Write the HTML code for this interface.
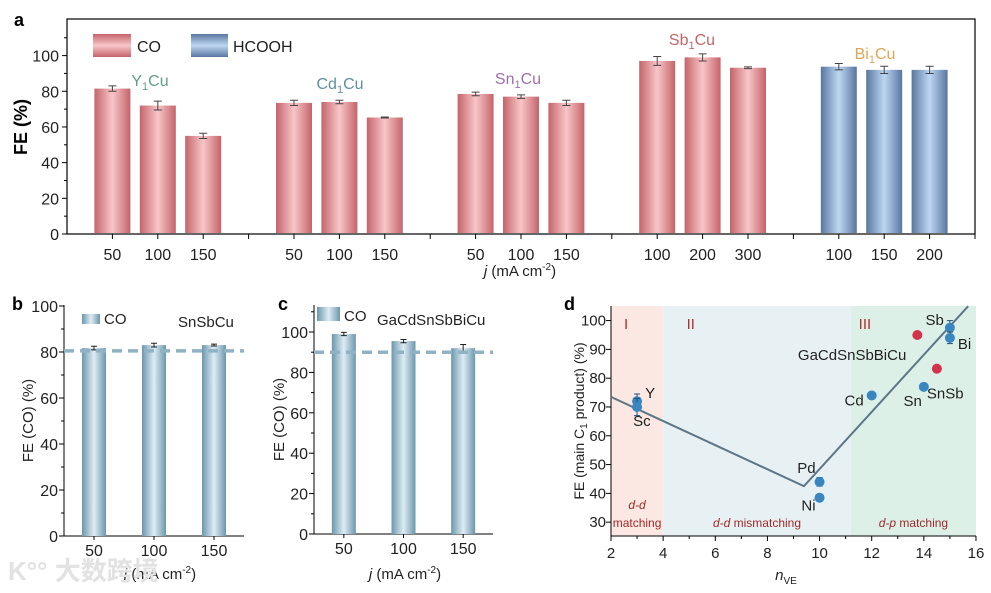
<!DOCTYPE html>
<html><head><meta charset="utf-8"><style>
html,body{margin:0;padding:0;background:#fff;}
svg{display:block;font-family:"Liberation Sans",Arial,sans-serif;}
</style></head><body>
<svg id="fig" width="991" height="593" viewBox="0 0 991 593" xmlns="http://www.w3.org/2000/svg">
<defs>
<linearGradient id="gRed" x1="0" x2="1" y1="0" y2="0"><stop offset="0" stop-color="#c4646b"/><stop offset="0.5" stop-color="#f8c6c8"/><stop offset="1" stop-color="#c4646b"/></linearGradient>
<linearGradient id="gBlue" x1="0" x2="1" y1="0" y2="0"><stop offset="0" stop-color="#5a76a0"/><stop offset="0.5" stop-color="#bdd7f2"/><stop offset="1" stop-color="#5a76a0"/></linearGradient>
<linearGradient id="gTeal" x1="0" x2="1" y1="0" y2="0"><stop offset="0" stop-color="#6b97ad"/><stop offset="0.5" stop-color="#deecf3"/><stop offset="1" stop-color="#6b97ad"/></linearGradient>
<linearGradient id="gRedV" x1="0" x2="0" y1="0" y2="1"><stop offset="0" stop-color="#c4646b"/><stop offset="0.5" stop-color="#f8c6c8"/><stop offset="1" stop-color="#c4646b"/></linearGradient>
<linearGradient id="gBlueV" x1="0" x2="0" y1="0" y2="1"><stop offset="0" stop-color="#5a76a0"/><stop offset="0.5" stop-color="#bdd7f2"/><stop offset="1" stop-color="#5a76a0"/></linearGradient>
</defs>
<g id="pa"></g>
<g id="pb"></g>
<g id="pc"></g>
<g id="pd"></g>
<text x="8" y="580" font-size="26" fill="#e2e2e2" font-family="'Liberation Sans','Noto Sans CJK SC',sans-serif" font-weight="bold">K°° 大数跨境</text>
</svg>
<script>
// ---------- Panel a data ----------
const aCats = ["50","100","150","50","100","150","50","100","150","100","200","300","100","150","200"];
const aSlots = [1,2,3,5,6,7,9,10,11,13,14,15,17,18,19];
const aVals = [81.5,72,55,73.5,74,65.3,78.5,77,73.5,97,99,93.2,93.8,92,92];
const aErr = [1.5,2.5,1.5,1.5,1,0.3,1,1,1.5,2.5,2,0.5,1.8,2,2];
const aSeries = ["CO","CO","CO","CO","CO","CO","CO","CO","CO","CO","CO","CO","HCOOH","HCOOH","HCOOH"];
const aGroups = ["Y","Cd","Sn","Sb","Bi"];
const aYTicks = [0,20,40,60,80,100];
// ---------- Panel b ----------
const bCats = ["50","100","150"];
const bVals = [81.7,83,83];
const bErr = [0.8,0.8,0.4];
const bRef = [80.5];
const bYTicks = [0,20,40,60,80,100];
// ---------- Panel c ----------
const cCats = ["50","100","150"];
const cVals = [99,95.5,92];
const cErr = [0.8,0.8,1.8];
const cRef = [90];
const cYTicks = [0,20,40,60,80,100];
// ---------- Panel d ----------
const dNames = ["Y","Sc","Pd","Ni","Cd","Sn","Sb","Bi","GaCdSnSbBiCu","SnSb"];
const dX = [3,3,10,10,12,14,15,15,13.75,14.5];
const dY = [72,70,44,38.5,74,77,97.5,94,95,83.3];
const dErr = [2.5,3,1.5,1,1,0.5,2.5,2,1,1];
const dKind = ["single","single","single","single","single","single","single","single","multi","multi"];
const dLineX = [2,9.4,15.7];
const dLineY = [73.5,42.5,105];
const dXTicks = [2,4,6,8,10,12,14,16];
const dYTicks = [30,40,50,60,70,80,90,100];
const dRegions = [2,4,11.2,16];

const NS="http://www.w3.org/2000/svg";
function mk(parent,tag,attrs,txt){const e=document.createElementNS(NS,tag);for(const k in attrs)e.setAttribute(k,attrs[k]);if(txt!==undefined)e.textContent=txt;parent.appendChild(e);return e;}
const F="#222";

// ===== Panel A =====
(function(){
const g=document.getElementById('pa');
const L=67,R=975,T=19,B=234;
const x=s=>L+s*(R-L)/20;
const y=v=>B-v*1.784;
let el;
el=mk(g,'rect',{x:L,y:T,width:R-L,height:B-T,fill:'none',stroke:'#000','stroke-width':1.2});


aYTicks.forEach(t=>{
  el=mk(g,'line',{x1:L,x2:L-5,y1:y(t),y2:y(t),stroke:'#000'});
  
  
  el=mk(g,'text',{x:L-8,y:y(t)+6,'text-anchor':'end','font-size':16,fill:F},t);
  
  
  el=mk(g,'line',{x1:L,x2:L-3,y1:y(t+10),y2:y(t+10),stroke:'#000'});
  
  
});
[4,8,12,16,20].forEach(s=>{
  el=mk(g,'line',{x1:x(s),x2:x(s),y1:B,y2:B+5,stroke:'#000'});
  
  
});
aVals.forEach((v,i)=>{
  const cx=x(aSlots[i]);
  el=mk(g,'rect',{x:cx-18,y:y(v),width:36,height:B-1-y(v),fill:aSeries[i]==="CO"?'url(#gRed)':'url(#gBlue)'});
  
  
  el=mk(g,'path',{d:`M${cx-4} ${y(v+aErr[i])}H${cx+4}M${cx} ${y(v+aErr[i])}V${y(v-aErr[i])}M${cx-4} ${y(v-aErr[i])}H${cx+4}`,stroke:'#444',fill:'none','stroke-width':1});
  
  
  el=mk(g,'line',{x1:cx,x2:cx,y1:B,y2:B+5,stroke:'#000'});
  
  
  el=mk(g,'text',{x:cx,y:B+26,'text-anchor':'middle','font-size':16,fill:F},aCats[i]);
  
  
});
const gl=[["Y",150,86,"#5fa084"],["Cd",340,89,"#5f8f9c"],["Sn",518,84,"#9b70a6"],["Sb",692,45,"#c46468"],["Bi",875,59,"#e0a555"]];
gl.forEach(q=>{
  el=mk(g,'text',{x:q[1],y:q[2],'text-anchor':'middle','font-size':16,fill:q[3]});
  el.innerHTML=q[0]+'<tspan font-size="11" dy="4">1</tspan><tspan dy="-4">Cu</tspan>';
  
  
});
el=mk(g,'rect',{x:93,y:34,width:38,height:23,fill:'url(#gRedV)'});


el=mk(g,'text',{x:137,y:52,'font-size':16,fill:F},'CO');


el=mk(g,'rect',{x:191,y:34,width:37,height:23,fill:'url(#gBlueV)'});


el=mk(g,'text',{x:233,y:52,'font-size':16,fill:F},'HCOOH');


el=mk(g,'text',{x:27,y:127,'text-anchor':'middle','font-size':18,'font-weight':'bold',fill:'#000',transform:'rotate(-90 27 127)'},'FE (%)');


el=mk(g,'text',{x:520,y:276,'text-anchor':'middle','font-size':15,fill:F});
el.innerHTML='<tspan font-style="italic">j</tspan> (mA cm<tspan font-size="10" dy="-6">-2</tspan><tspan dy="6">)</tspan>';


el=mk(g,'text',{x:14,y:26,'font-size':18,'font-weight':'bold',fill:'#000'},'a');


})();

// ===== Panels B & C =====
function barPanel(id,cfg,cats,vals,errs,ref,ticks){
const g=document.getElementById(id);
const {L,R,T,B,unit,lbl}=cfg;
const y=v=>B-v*unit;
const n=cats.length;
const x=i=>L+(i+0.5)*(R-L)/n;
let el;
el=mk(g,'path',{d:`M${L} ${T}V${B}H${R}`,stroke:'#000',fill:'none','stroke-width':1});


ticks.forEach(t=>{
  el=mk(g,'line',{x1:L,x2:L-5,y1:y(t),y2:y(t),stroke:'#000'});
  
  
  el=mk(g,'text',{x:L-6,y:y(t)+6,'text-anchor':'end','font-size':16,fill:F},t);
  
  
  if(y(t+10)>T){el=mk(g,'line',{x1:L,x2:L-3,y1:y(t+10),y2:y(t+10),stroke:'#000'});
  
  }
});
vals.forEach((v,i)=>{
  const cx=x(i);
  el=mk(g,'rect',{x:cx-12,y:y(v),width:24,height:B-y(v),fill:'url(#gTeal)'});
  
  
  el=mk(g,'path',{d:`M${cx-3} ${y(v+errs[i])}H${cx+3}M${cx} ${y(v+errs[i])}V${y(v-errs[i])}M${cx-3} ${y(v-errs[i])}H${cx+3}`,stroke:'#222',fill:'none'});
  
  
  el=mk(g,'line',{x1:cx,x2:cx,y1:B,y2:B+4,stroke:'#000'});
  
  
  el=mk(g,'text',{x:cx,y:B+20,'text-anchor':'middle','font-size':16,fill:F},cats[i]);
  
  
});
el=mk(g,'line',{x1:L,x2:R,y1:y(ref[0]),y2:y(ref[0]),stroke:'#8fb2c4','stroke-width':3.5,'stroke-dasharray':'10 6'});


el=mk(g,'rect',{x:cfg.lx,y:cfg.ly,width:cfg.lw,height:cfg.lh,fill:'url(#gTeal)'});


el=mk(g,'text',{x:cfg.lx+cfg.lw+4,y:cfg.ly+cfg.lh,'font-size':15,fill:F},'CO');


el=mk(g,'text',{x:cfg.sx,y:cfg.sy,'font-size':15,fill:F},cfg.sample);


el=mk(g,'text',{x:cfg.yx,y:(T+B)/2,'text-anchor':'middle','font-size':15,fill:F,transform:`rotate(-90 ${cfg.yx} ${(T+B)/2})`},'FE (CO) (%)');


el=mk(g,'text',{x:cfg.xx,y:579,'text-anchor':'middle','font-size':15,fill:F});
el.innerHTML='<tspan font-style="italic">j</tspan> (mA cm<tspan font-size="10" dy="-6">-2</tspan><tspan dy="6">)</tspan>';


el=mk(g,'text',{x:cfg.px,y:310,'font-size':18,'font-weight':'bold',fill:'#000'},lbl);


}
barPanel('pb',{L:64,R:244,T:305,B:536,unit:2.3,lbl:'b',lx:82,ly:314,lw:18,lh:10,sx:178,sy:327,yx:33,xx:160,px:12,sample:'SnSbCu'},bCats,bVals,bErr,bRef,bYTicks);
barPanel('pc',{L:314,R:493,T:305,B:534,unit:2.02,lbl:'c',lx:317,ly:307,lw:23,lh:14,sx:377,sy:325,yx:284,xx:405,px:278,sample:'GaCdSnSbBiCu'},cCats,cVals,cErr,cRef,cYTicks);

// ===== Panel D =====
(function(){
const g=document.getElementById('pd');
const L=611,R=976,T=306,B=536;
const x=v=>L+(v-2)*26.07;
const y=v=>B-(v-25.2)*2.88;
let el;
const rc=["#fbe8e2","#e7f1f4","#ddf0e8"];
for(let i=0;i<3;i++){
  el=mk(g,'rect',{x:x(dRegions[i]),y:T,width:x(dRegions[i+1])-x(dRegions[i]),height:B-T,fill:rc[i]});
  
  
}
el=mk(g,'path',{d:`M${L} ${T}V${B}H${R}`,stroke:'#000',fill:'none'});


dXTicks.forEach(t=>{
  el=mk(g,'line',{x1:x(t),x2:x(t),y1:B,y2:B+5,stroke:'#000'});
  
  
  el=mk(g,'line',{x1:x(t+1),x2:x(t+1),y1:B,y2:B+3,stroke:'#000'});
  
  
  el=mk(g,'text',{x:x(t),y:B+22,'text-anchor':'middle','font-size':15,fill:F},t);
  
  
});
dYTicks.forEach(t=>{
  el=mk(g,'line',{x1:L,x2:L-5,y1:y(t),y2:y(t),stroke:'#000'});
  
  
  el=mk(g,'text',{x:L-5,y:y(t)+5,'text-anchor':'end','font-size':15,fill:F},t);
  
  
});
el=mk(g,'polyline',{points:dLineX.map((v,i)=>x(v)+','+y(dLineY[i])).join(' '),stroke:'#5c7688',fill:'none','stroke-width':2});


dX.forEach((v,i)=>{
  const cx=x(v),cy=y(dY[i]);
  el=mk(g,'path',{d:`M${cx-3} ${y(dY[i]+dErr[i])}H${cx+3}M${cx} ${y(dY[i]+dErr[i])}V${y(dY[i]-dErr[i])}M${cx-3} ${y(dY[i]-dErr[i])}H${cx+3}`,stroke:'#1f4e79',fill:'none'});
  
  
  el=mk(g,'circle',{cx:cx,cy:cy,r:5,fill:dKind[i]==="multi"?'#d4314a':'#3a86c0'});
  
  
});
const labs=[["Y",0,-8,'start',8],["Sc",1,14,'start',-4],["Pd",2,-14,'end',-4],["Ni",3,8,'end',-4],["Cd",4,5,'end',-8],["Sn",5,14,'end',-2],["Sb",6,-8,'end',-6],["Bi",7,6,'start',8],["GaCdSnSbBiCu",8,20,'end',-11],["SnSb",9,25,'start',-10]];
labs.forEach(q=>{
  el=mk(g,'text',{x:x(dX[q[1]])+q[4],y:y(dY[q[1]])+q[2]+5,'text-anchor':q[3],'font-size':15,fill:F},q[0]);
  
  
});
[["I",2.5],["II",4.9],["III",11.5]].forEach(q=>{
  el=mk(g,'text',{x:x(q[1]),y:329,'font-size':15,fill:'#b03030'},q[0]);
  
  
});
el=mk(g,'text',{x:x(3),y:509,'text-anchor':'middle','font-size':12,'font-style':'italic',fill:'#9c2a2a'},'d-d');


el=mk(g,'text',{x:x(3),y:527,'text-anchor':'middle','font-size':12,fill:'#9c2a2a'},'matching');


el=mk(g,'text',{x:x(7.6),y:527,'text-anchor':'middle','font-size':12,fill:'#9c2a2a'});
el.innerHTML='<tspan font-style="italic">d-d</tspan> mismatching';


el=mk(g,'text',{x:x(13.6),y:527,'text-anchor':'middle','font-size':12,fill:'#9c2a2a'});
el.innerHTML='<tspan font-style="italic">d-p</tspan> matching';


el=mk(g,'text',{x:584,y:421,'text-anchor':'middle','font-size':14,fill:F,transform:'rotate(-90 584 421)'});
el.innerHTML='FE (main C<tspan font-size="10" dy="3">1</tspan><tspan dy="-3"> product) (%)</tspan>';


el=mk(g,'text',{x:786,y:580,'text-anchor':'middle','font-size':15,fill:F});
el.innerHTML='<tspan font-style="italic">n</tspan><tspan font-size="10" dy="4">VE</tspan>';


el=mk(g,'text',{x:564,y:310,'font-size':18,'font-weight':'bold',fill:'#000'},'d');


})();
</script>
</body></html>
